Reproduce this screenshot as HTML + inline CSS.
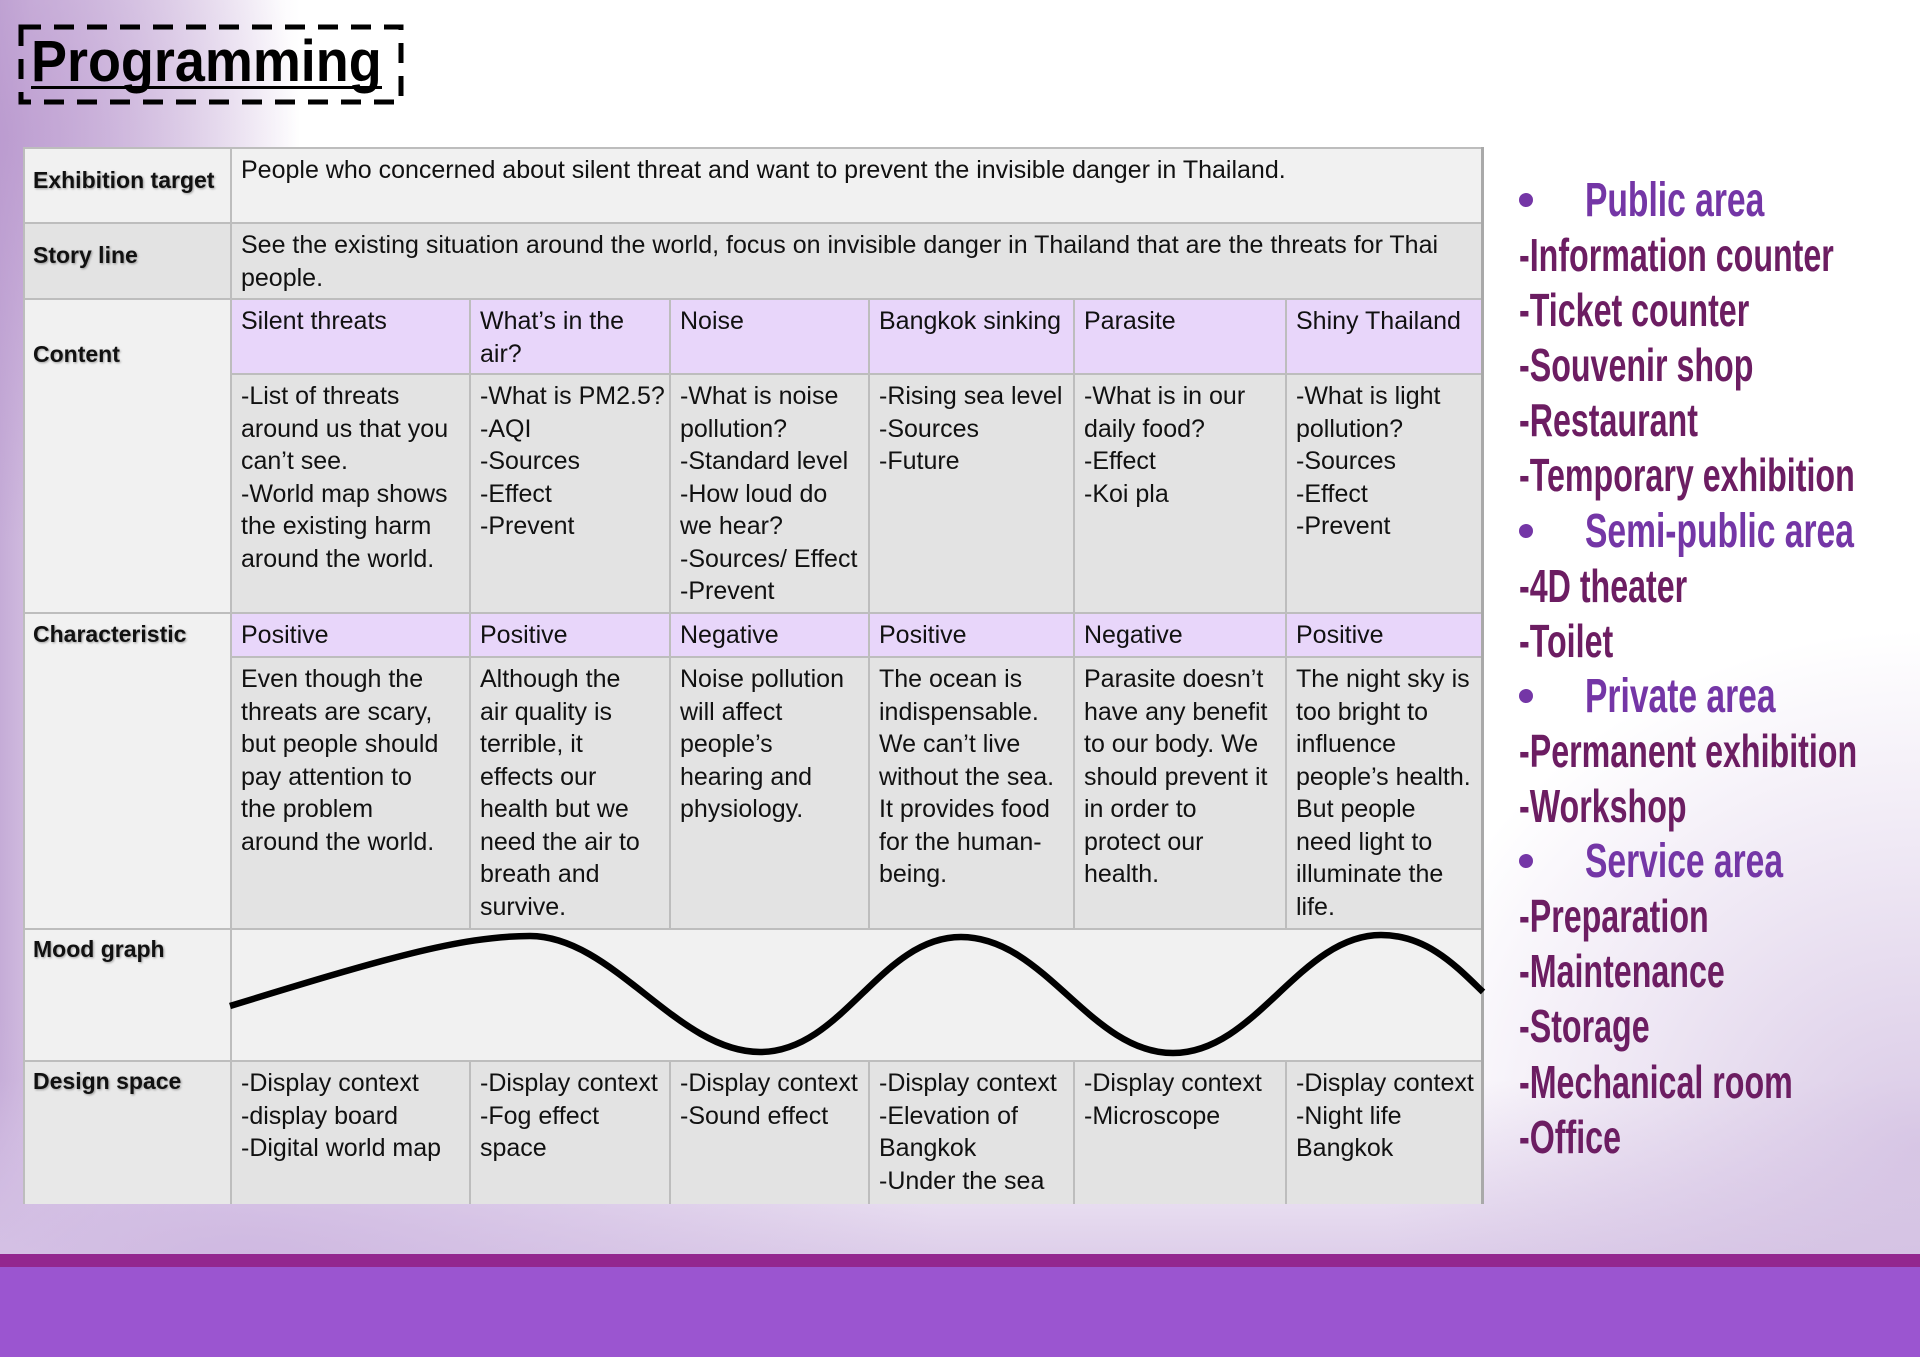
<!DOCTYPE html>
<html><head><meta charset="utf-8">
<style>
*{margin:0;padding:0;box-sizing:border-box}
html,body{width:1920px;height:1357px;overflow:hidden}
body{position:relative;background:#fff;font-family:"Liberation Sans",Arial,sans-serif;}
.bg{position:absolute;left:0;top:0;width:1920px;height:1357px;background:
 radial-gradient(ellipse 300px 400px at 0px 140px, rgba(184,150,205,0.75), rgba(184,150,205,0) 100%),
 radial-gradient(ellipse 700px 260px at 250px 1260px, rgba(205,182,224,0.9), rgba(205,182,224,0)),
 radial-gradient(ellipse 540px 520px at 1920px 1150px, rgba(208,188,224,0.8), rgba(208,188,224,0)),
 linear-gradient(to bottom, rgba(225,210,236,0) 1080px, rgba(222,207,234,1) 1254px),
 linear-gradient(to right, #c5acd7 0px, #d2bde0 30px, rgba(255,255,255,0) 300px);}
.c{position:absolute;border-left:2px solid #bdbdbd;border-top:2px solid #bdbdbd}
.t{position:absolute;font-size:25px;line-height:32.5px;color:#111;white-space:pre}
.l{position:absolute;left:33px;font-size:23px;font-weight:bold;line-height:30px;color:#111;white-space:pre;text-shadow:1px 1px 2px rgba(0,0,0,.35)}
.g{background:#f1f1f1}.d{background:#e3e3e3}.p{background:#e8d6fa}
.list{position:absolute;left:1519px;top:173px;width:400px}
.list div{position:relative;height:55.1px;line-height:55.1px;white-space:pre;font-weight:bold}
.it{font-size:46px;color:#6c1d62}
.it span,.hd span{display:inline-block;transform:scaleX(.70);transform-origin:0 50%}
.hd{font-size:48px;color:#7436a6;padding-left:66px}
.hd i{position:absolute;left:0px;top:20px;width:14px;height:14px;border-radius:50%;background:#7436a6}
</style></head><body>
<div class="bg"></div>

<!-- title -->
<svg style="position:absolute;left:0;top:0" width="420" height="120">
<rect x="21" y="27" width="380" height="75" fill="none" stroke="#000" stroke-width="5" stroke-dasharray="20 13"/>
</svg>
<div style="position:absolute;left:31px;top:33px;font-size:58px;line-height:58px;font-weight:bold;color:#000;white-space:pre;transform:scaleX(.93);transform-origin:0 0">Programming</div>
<div style="position:absolute;left:31px;top:86px;width:351px;height:3px;background:#000"></div>

<!-- table cells -->
<div class="c g" style="left:23px;top:147px;width:207px;height:75px"></div>
<div class="c g" style="left:230px;top:147px;width:1253px;height:75px"></div>
<div class="c d" style="left:23px;top:222px;width:207px;height:76px"></div>
<div class="c d" style="left:230px;top:222px;width:1253px;height:76px"></div>
<div class="c g" style="left:23px;top:298px;width:207px;height:314px"></div>

<div class="c p" style="left:230px;top:298px;width:239px;height:75px"></div>
<div class="c p" style="left:469px;top:298px;width:200px;height:75px"></div>
<div class="c p" style="left:669px;top:298px;width:199px;height:75px"></div>
<div class="c p" style="left:868px;top:298px;width:205px;height:75px"></div>
<div class="c p" style="left:1073px;top:298px;width:212px;height:75px"></div>
<div class="c p" style="left:1285px;top:298px;width:198px;height:75px"></div>

<div class="c d" style="left:230px;top:373px;width:239px;height:239px"></div>
<div class="c d" style="left:469px;top:373px;width:200px;height:239px"></div>
<div class="c d" style="left:669px;top:373px;width:199px;height:239px"></div>
<div class="c d" style="left:868px;top:373px;width:205px;height:239px"></div>
<div class="c d" style="left:1073px;top:373px;width:212px;height:239px"></div>
<div class="c d" style="left:1285px;top:373px;width:198px;height:239px"></div>

<div class="c g" style="left:23px;top:612px;width:207px;height:316px"></div>
<div class="c p" style="left:230px;top:612px;width:239px;height:44px"></div>
<div class="c p" style="left:469px;top:612px;width:200px;height:44px"></div>
<div class="c p" style="left:669px;top:612px;width:199px;height:44px"></div>
<div class="c p" style="left:868px;top:612px;width:205px;height:44px"></div>
<div class="c p" style="left:1073px;top:612px;width:212px;height:44px"></div>
<div class="c p" style="left:1285px;top:612px;width:198px;height:44px"></div>

<div class="c d" style="left:230px;top:656px;width:239px;height:272px"></div>
<div class="c d" style="left:469px;top:656px;width:200px;height:272px"></div>
<div class="c d" style="left:669px;top:656px;width:199px;height:272px"></div>
<div class="c d" style="left:868px;top:656px;width:205px;height:272px"></div>
<div class="c d" style="left:1073px;top:656px;width:212px;height:272px"></div>
<div class="c d" style="left:1285px;top:656px;width:198px;height:272px"></div>

<div class="c g" style="left:23px;top:928px;width:207px;height:132px"></div>
<div class="c g" style="left:230px;top:928px;width:1253px;height:132px"></div>

<div class="c" style="left:23px;top:1060px;width:207px;height:144px;background:#e8e8e8"></div>
<div class="c d" style="left:230px;top:1060px;width:239px;height:144px"></div>
<div class="c d" style="left:469px;top:1060px;width:200px;height:144px"></div>
<div class="c d" style="left:669px;top:1060px;width:199px;height:144px"></div>
<div class="c d" style="left:868px;top:1060px;width:205px;height:144px"></div>
<div class="c d" style="left:1073px;top:1060px;width:212px;height:144px"></div>
<div class="c d" style="left:1285px;top:1060px;width:198px;height:144px"></div>

<div style="position:absolute;left:1481px;top:147px;width:3px;height:1057px;background:#a9a9a9"></div>

<!-- labels -->
<div class="l" style="top:165px">Exhibition target</div>
<div class="l" style="top:240px">Story line</div>
<div class="l" style="top:339px">Content</div>
<div class="l" style="top:619px">Characteristic</div>
<div class="l" style="top:934px">Mood graph</div>
<div class="l" style="top:1066px">Design space</div>

<!-- texts -->
<div class="t" style="left:241px;top:154px">People who concerned about silent threat and want to prevent the invisible danger in Thailand.</div>
<div class="t" style="left:241px;top:229px">See the existing situation around the world, focus on invisible danger in Thailand that are the threats for Thai
people.</div>

<div class="t" style="left:241px;top:305px">Silent threats</div>
<div class="t" style="left:480px;top:305px">What’s in the
air?</div>
<div class="t" style="left:680px;top:305px">Noise</div>
<div class="t" style="left:879px;top:305px">Bangkok sinking</div>
<div class="t" style="left:1084px;top:305px">Parasite</div>
<div class="t" style="left:1296px;top:305px">Shiny Thailand</div>

<div class="t" style="left:241px;top:380px">-List of threats
around us that you
can’t see.
-World map shows
the existing harm
around the world.</div>
<div class="t" style="left:480px;top:380px">-What is PM2.5?
-AQI
-Sources
-Effect
-Prevent</div>
<div class="t" style="left:680px;top:380px">-What is noise
pollution?
-Standard level
-How loud do
we hear?
-Sources/ Effect
-Prevent</div>
<div class="t" style="left:879px;top:380px">-Rising sea level
-Sources
-Future</div>
<div class="t" style="left:1084px;top:380px">-What is in our
daily food?
-Effect
-Koi pla</div>
<div class="t" style="left:1296px;top:380px">-What is light
pollution?
-Sources
-Effect
-Prevent</div>

<div class="t" style="left:241px;top:619px">Positive</div>
<div class="t" style="left:480px;top:619px">Positive</div>
<div class="t" style="left:680px;top:619px">Negative</div>
<div class="t" style="left:879px;top:619px">Positive</div>
<div class="t" style="left:1084px;top:619px">Negative</div>
<div class="t" style="left:1296px;top:619px">Positive</div>

<div class="t" style="left:241px;top:663px">Even though the
threats are scary,
but people should
pay attention to
the problem
around the world.</div>
<div class="t" style="left:480px;top:663px">Although the
air quality is
terrible, it
effects our
health but we
need the air to
breath and
survive.</div>
<div class="t" style="left:680px;top:663px">Noise pollution
will affect
people’s
hearing and
physiology.</div>
<div class="t" style="left:879px;top:663px">The ocean is
indispensable.
We can’t live
without the sea.
It provides food
for the human-
being.</div>
<div class="t" style="left:1084px;top:663px">Parasite doesn’t
have any benefit
to our body. We
should prevent it
in order to
protect our
health.</div>
<div class="t" style="left:1296px;top:663px">The night sky is
too bright to
influence
people’s health.
But people
need light to
illuminate the
life.</div>

<div class="t" style="left:241px;top:1067px">-Display context
-display board
-Digital world map</div>
<div class="t" style="left:480px;top:1067px">-Display context
-Fog effect
space</div>
<div class="t" style="left:680px;top:1067px">-Display context
-Sound effect</div>
<div class="t" style="left:879px;top:1067px">-Display context
-Elevation of
Bangkok
-Under the sea</div>
<div class="t" style="left:1084px;top:1067px">-Display context
-Microscope</div>
<div class="t" style="left:1296px;top:1067px">-Display context
-Night life
Bangkok</div>

<!-- mood curve -->
<svg style="position:absolute;left:0;top:0" width="1920" height="1357">
<path d="M230,1006 C380,960 460,936 530,936 C613,936 677,1052 760,1052 C843,1052 880,937 961,937 C1045,937 1090,1053 1173,1053 C1256,1053 1300,935 1381,935 C1428,935 1458,968 1483,992" fill="none" stroke="#000" stroke-width="6.5" stroke-linecap="butt"/>
</svg>

<!-- right list -->
<div class="list">
<div class="hd"><i></i><span>Public area</span></div>
<div class="it"><span>-Information counter</span></div>
<div class="it"><span>-Ticket counter</span></div>
<div class="it"><span>-Souvenir shop</span></div>
<div class="it"><span>-Restaurant</span></div>
<div class="it"><span>-Temporary exhibition</span></div>
<div class="hd"><i></i><span>Semi-public area</span></div>
<div class="it"><span>-4D theater</span></div>
<div class="it"><span>-Toilet</span></div>
<div class="hd"><i></i><span>Private area</span></div>
<div class="it"><span>-Permanent exhibition</span></div>
<div class="it"><span>-Workshop</span></div>
<div class="hd"><i></i><span>Service area</span></div>
<div class="it"><span>-Preparation</span></div>
<div class="it"><span>-Maintenance</span></div>
<div class="it"><span>-Storage</span></div>
<div class="it"><span>-Mechanical room</span></div>
<div class="it"><span>-Office</span></div>
</div>

<!-- bottom bands -->
<div style="position:absolute;left:0;top:1254px;width:1920px;height:13px;background:#93278f"></div>
<div style="position:absolute;left:0;top:1267px;width:1920px;height:90px;background:#9b55d0"></div>
</body></html>
